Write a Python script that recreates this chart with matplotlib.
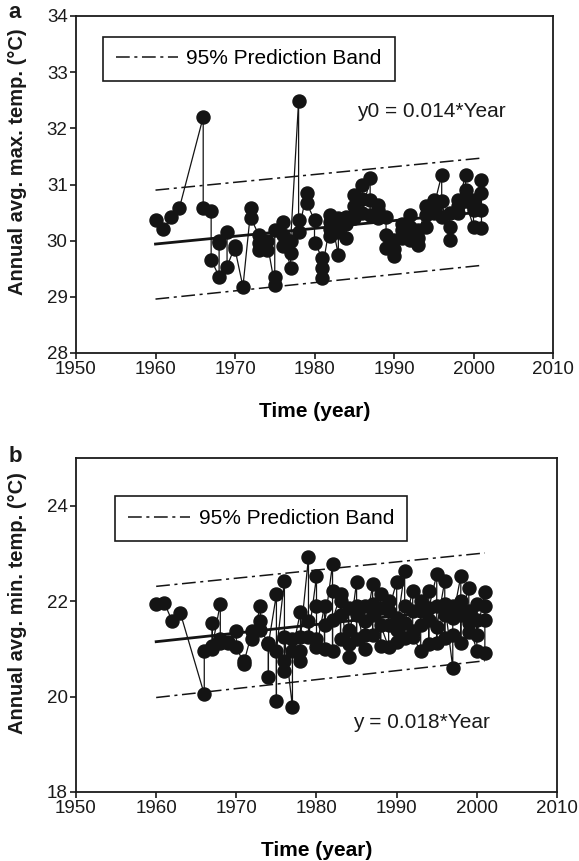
import matplotlib
matplotlib.use("Agg")
import matplotlib.pyplot as plt
from matplotlib.lines import Line2D

plt.rcParams['font.family'] = ['Liberation Sans', 'DejaVu Sans']

# ---------------- data (panel a: annual avg. max. temp.) ----------------
years_a = [1960, 1961, 1962, 1963,
           1966, 1966, 1967, 1967, 1968, 1968, 1968, 1969, 1969, 1970, 1970,
           1971, 1972, 1972, 1973, 1973, 1973, 1974, 1974, 1975, 1975, 1975,
           1976, 1976, 1976, 1977, 1977, 1977, 1978, 1978, 1978, 1979, 1979,
           1980, 1980, 1981, 1981, 1981, 1982, 1982, 1982, 1982,
           1983, 1983, 1983, 1983, 1984, 1984, 1984,
           1985, 1985, 1985, 1986, 1986, 1986, 1987, 1987, 1987,
           1988, 1988, 1988, 1989, 1989, 1989, 1990, 1990, 1990,
           1991, 1991, 1991, 1992, 1992, 1992, 1993, 1993, 1993,
           1994, 1994, 1994, 1995, 1995, 1995, 1996, 1996, 1996,
           1997, 1997, 1997, 1998, 1998, 1998, 1999, 1999, 1999,
           2000, 2000, 2000, 2001, 2001, 2001, 2001]
tmax_a = [30.36, 30.20, 30.43, 30.58,
          32.20, 30.58, 30.52, 29.66, 29.36, 29.96, 30.00, 30.16, 29.54, 29.90, 29.85,
          29.18, 30.58, 30.40, 30.10, 29.84, 29.95, 29.84, 30.00, 29.21, 29.36, 30.19,
          30.34, 29.90, 30.10, 29.51, 29.78, 30.00, 32.49, 30.37, 30.15, 30.85, 30.67,
          30.37, 29.96, 29.69, 29.33, 29.51, 30.34, 30.08, 30.20, 30.45,
          29.75, 30.31, 30.15, 30.40, 30.43, 30.05, 30.30,
          30.81, 30.62, 30.40, 30.99, 30.75, 30.50, 31.11, 30.73, 30.45,
          30.64, 30.40, 30.55, 30.43, 29.87, 30.10, 29.72, 30.01, 29.85,
          30.19, 30.30, 30.05, 30.45, 30.01, 30.25, 29.93, 30.19, 30.05,
          30.61, 30.25, 30.45, 30.73, 30.49, 30.60, 31.17, 30.43, 30.70,
          30.01, 30.25, 30.50, 30.73, 30.49, 30.62, 31.17, 30.91, 30.70,
          30.25, 30.73, 30.55, 31.08, 30.85, 30.55, 30.23]

fit_years = [1960, 2001]
fit_a = [29.94, 30.51]
upper_a = [30.90, 31.47]
lower_a = [28.96, 29.56]

# ---------------- data (panel b: annual avg. min. temp.) ----------------
years_b = [1960, 1961, 1962, 1963,
           1966, 1966, 1967, 1967, 1967, 1968, 1968, 1968, 1969, 1969, 1970, 1970,
           1971, 1971, 1972, 1972, 1973, 1973, 1973, 1974, 1974, 1974,
           1975, 1975, 1975, 1976, 1976, 1976, 1976, 1977, 1977, 1977,
           1978, 1978, 1978, 1978, 1979, 1979, 1979, 1980, 1980, 1980, 1980,
           1981, 1981, 1981, 1982, 1982, 1982, 1982,
           1983, 1983, 1983, 1983, 1984, 1984, 1984, 1984,
           1985, 1985, 1985, 1985, 1986, 1986, 1986, 1986,
           1987, 1987, 1987, 1987, 1988, 1988, 1988, 1988,
           1989, 1989, 1989, 1989, 1990, 1990, 1990, 1990,
           1991, 1991, 1991, 1991, 1992, 1992, 1992, 1992,
           1993, 1993, 1993, 1993, 1994, 1994, 1994, 1994,
           1995, 1995, 1995, 1995, 1996, 1996, 1996, 1996,
           1997, 1997, 1997, 1997, 1998, 1998, 1998, 1998,
           1999, 1999, 1999, 1999, 2000, 2000, 2000, 2000,
           2001, 2001, 2001, 2001]
tmin_b = [21.95, 21.97, 21.58, 21.76,
          20.05, 20.96, 20.99, 21.54, 21.05, 21.95, 21.13, 21.20, 21.15, 21.13, 21.38, 21.03,
          20.68, 20.75, 21.38, 21.20, 21.90, 21.58, 21.40, 21.13, 20.40, 21.10,
          22.14, 19.91, 20.96, 22.43, 20.54, 20.75, 21.24, 19.78, 21.20, 20.96,
          21.78, 20.96, 20.75, 21.25, 22.92, 21.58, 21.24, 22.52, 21.20, 21.90, 21.03,
          21.90, 21.00, 21.50, 22.78, 22.21, 20.96, 21.60,
          22.14, 21.20, 21.70, 22.00, 20.82, 21.85, 21.40, 21.10,
          22.41, 21.20, 21.70, 21.90, 20.99, 21.58, 21.90, 21.30,
          22.35, 21.30, 21.70, 21.95, 22.14, 21.86, 21.06, 21.50,
          21.03, 21.50, 22.00, 21.80, 22.41, 21.65, 21.15, 21.40,
          22.63, 21.22, 21.90, 21.55, 22.21, 21.38, 21.80, 21.25,
          20.96, 22.00, 21.50, 21.80, 22.21, 21.10, 21.60, 21.85,
          22.56, 21.13, 21.90, 21.45, 22.43, 21.22, 21.70, 21.95,
          20.60, 21.30, 21.90, 21.65, 22.52, 21.13, 22.00, 21.70,
          22.27, 21.35, 21.80, 21.55, 20.96, 21.60, 21.95, 21.30,
          22.20, 21.90, 21.60, 20.92]

fit_b = [21.15, 21.89]
upper_b = [22.31, 23.01]
lower_b = [19.98, 20.75]

x_ticks = [1950, 1960, 1970, 1980, 1990, 2000, 2010]
y_ticks_a = [28, 29, 30, 31, 32, 33, 34]
y_ticks_b = [18, 20, 22, 24]

# ---------------- figure ----------------
W, H = 579, 861
fig = plt.figure(figsize=(W / 100, H / 100), dpi=100)

def px_axes(l, t, r, b):
    return fig.add_axes([l / W, 1 - b / H, (r - l) / W, (b - t) / H])

ax_a = px_axes(76, 16, 553, 353)
ax_b = px_axes(76, 458, 557, 792)

dashdot = (0, (9, 3, 2, 3))
col = '#141414'

def draw(ax, yrs, vals, fit, up, lo, yticks, ylim, eq, eqpos, legpos):
    ax.plot(yrs, vals, '-', color=col, lw=0.9, marker='o', ms=9.4,
            mfc=col, mec=col, zorder=3)
    ax.plot(fit_years, fit, '-', color=col, lw=2.0, zorder=2)
    ax.plot(fit_years, up, color=col, lw=1.1, linestyle=dashdot, zorder=2)
    ax.plot(fit_years, lo, color=col, lw=1.1, linestyle=dashdot, zorder=2)
    ax.set_xlim(1950, 2010)
    ax.set_ylim(*ylim)
    ax.set_xticks(x_ticks)
    ax.set_yticks(yticks)
    ax.tick_params(direction='out', length=4, width=1.2, labelsize=13.5,
                   pad=2, colors='#1a1a1a')
    for s in ax.spines.values():
        s.set_linewidth(1.3)
        s.set_color('#1a1a1a')
    ax.text(eqpos[0], eqpos[1], eq, transform=ax.transAxes, fontsize=15,
            ha='center', va='center', color='#1a1a1a')
    h = Line2D([], [], color=col, lw=1.1, linestyle=dashdot)
    leg = ax.legend([h], ['95% Prediction Band'], loc='upper left',
                    bbox_to_anchor=legpos, borderaxespad=0, fontsize=15,
                    handlelength=3.0, handletextpad=0.4, fancybox=False,
                    framealpha=1, edgecolor='#1a1a1a', borderpad=0.62)
    leg.get_frame().set_linewidth(1.2)
    ax.set_xlabel('Time (year)', fontsize=15, fontweight='bold', labelpad=17)

draw(ax_a, years_a, tmax_a, fit_a, upper_a, lower_a, y_ticks_a, (28, 34),
     'y0 = 0.014*Year', (0.744, 0.718), (0.056, 0.939))
draw(ax_b, years_b, tmin_b, fit_b, upper_b, lower_b, y_ticks_b, (18, 25),
     'y = 0.018*Year', (0.719, 0.207), (0.081, 0.886))

ylab_fam = ['Liberation Sans Narrow', 'Liberation Sans', 'DejaVu Sans']
fig.text(18 / W, 1 - 162 / H, 'Annual avg. max. temp. (°C)', rotation=90,
         ha='center', va='center', fontsize=14.5, fontweight='bold',
         family=ylab_fam, color='#1a1a1a')
fig.text(18 / W, 1 - 603 / H, 'Annual avg. min. temp. (°C)', rotation=90,
         ha='center', va='center', fontsize=14.5, fontweight='bold',
         family=ylab_fam, color='#1a1a1a')

fig.text(15 / W, 1 - 12 / H, 'a', ha='center', va='center', fontsize=16,
         fontweight='bold', color='#1a1a1a')
fig.text(15 / W, 1 - 457 / H, 'b', ha='center', va='center', fontsize=16,
         fontweight='bold', color='#1a1a1a')

fig.savefig('out.png', dpi=100)
